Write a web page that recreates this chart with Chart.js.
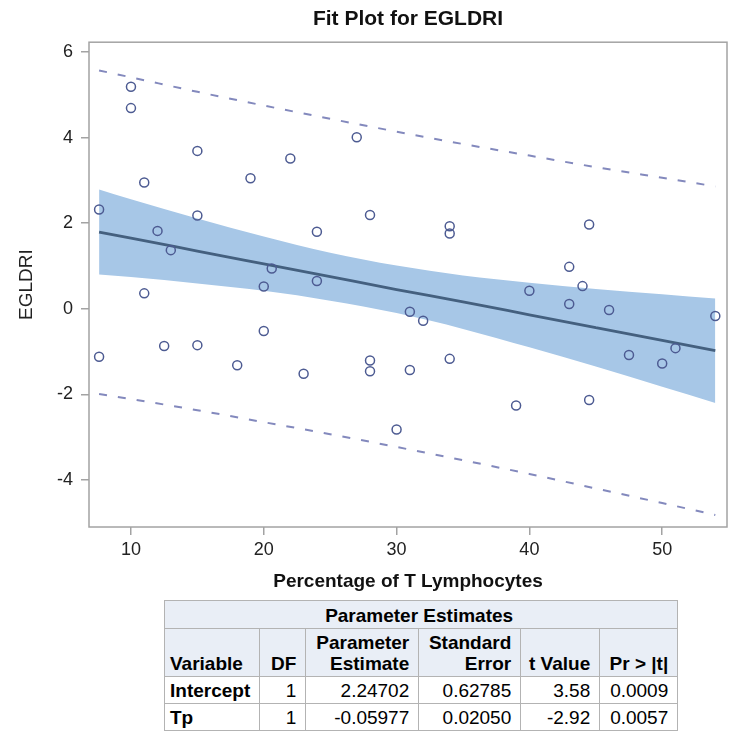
<!DOCTYPE html>
<html lang="en">
<head>
<meta charset="UTF-8">
<title>Fit Plot for EGLDRI</title>
<script src="https://cdn.jsdelivr.net/npm/chart.js@4"></script>
<style>
  body { margin: 0; background: #fff; font-family: 'Liberation Sans', Arial, sans-serif; }
  #wrap { position: relative; width: 733px; height: 738px; }
  #fit { position: absolute; left: 0; top: 0; }
  table.pe {
    position: absolute; left: 164px; top: 600px;
    border-collapse: collapse; font-size: 19px; line-height: 21px; color: #000;
  }
  table.pe th, table.pe td {
    border: 1.5px solid #b3b3b3; padding: 2px 9px 2px 5px; box-sizing: border-box;
  }
  table.pe th { background: #e9eef6; font-weight: bold; text-align: right; vertical-align: bottom; }
  table.pe th.cap { text-align: center; height: 28px; }
  table.pe th.left { text-align: left; }
  table.pe th.rowh { background: #fff; text-align: left; }
  table.pe td { text-align: right; background: #fff; }
  table.pe tr.hdr th { height: 48px; }
  table.pe tr.row td, table.pe tr.row th { height: 27px; }
</style>
</head>
<body>
<div id="wrap">
  <canvas id="fit" width="733" height="600"></canvas>
  <table class="pe" id="pe"></table>
</div>

<script>
  // observed points
  const obsX = [7.6, 7.6, 10, 10, 11, 11, 12, 12.5, 13, 15, 15, 15, 18, 19, 20, 20, 20.6, 22, 23, 24, 24, 27,
                28, 28, 28, 30, 31, 31, 32, 34, 34, 34, 39, 40, 43, 43, 44, 44.5, 44.5, 46, 47.5, 50, 51, 54];
  const obsY = [2.32, -1.12, 5.19, 4.69, 2.95, 0.36, 1.82, -0.87, 1.37, 3.69, 2.18, -0.85, -1.32, 3.05, 0.52, -0.52, 0.94, 3.51, -1.52, 1.80, 0.65, 4.01,
                2.19, -1.21, -1.46, -2.82, -0.07, -1.43, -0.28, 1.93, 1.76, -1.17, -2.26, 0.42, 0.98, 0.11, 0.53, 1.97, -2.13, -0.03, -1.08, -1.28, -0.92, -0.17];

  // fit line, confidence band and prediction limits, read along x
  const bandX  = [7.6, 10, 15, 20, 25, 30, 35, 40, 45, 50, 54];
  const fitY   = [1.79, 1.65, 1.35, 1.05, 0.75, 0.45, 0.16, -0.14, -0.44, -0.74, -0.98];
  const clmUp  = [2.79, 2.56, 2.11, 1.69, 1.31, 1.01, 0.78, 0.61, 0.46, 0.34, 0.24];
  const clmLo  = [0.80, 0.74, 0.59, 0.42, 0.19, -0.10, -0.47, -0.90, -1.35, -1.82, -2.20];
  const plmUp  = [5.57, 5.41, 5.07, 4.75, 4.44, 4.14, 3.85, 3.58, 3.31, 3.06, 2.86];
  const plmLo  = [-1.99, -2.11, -2.37, -2.65, -2.93, -3.23, -3.54, -3.86, -4.20, -4.54, -4.82];

  const xTicks = [10, 20, 30, 40, 50];
  const yTicks = [-4, -2, 0, 2, 4, 6];

  // parameter estimates table
  const peVars = ['Intercept', 'Tp'];
  const peDF   = ['1', '1'];
  const peEst  = ['2.24702', '-0.05977'];
  const peSE   = ['0.62785', '0.02050'];
  const peT    = ['3.58', '-2.92'];
  const peP    = ['0.0009', '0.0057'];

  const FONT = "'Liberation Sans', Arial, sans-serif";
  const frameColor = '#a3a3a3';

  const xy = (xs, ys) => xs.map((x, i) => ({ x: x, y: ys[i] }));

  const framePlugin = {
    id: 'frame',
    beforeDatasetsDraw(chart) {
      const a = chart.chartArea, ctx = chart.ctx;
      ctx.save();
      ctx.strokeStyle = frameColor;
      ctx.lineWidth = 1.5;
      ctx.strokeRect(a.left, a.top, a.right - a.left, a.bottom - a.top);
      ctx.restore();
    }
  };

  const curve = {
    pointRadius: 0,
    fill: false,
    cubicInterpolationMode: 'monotone'
  };

  new Chart(document.getElementById('fit').getContext('2d'), {
    type: 'line',
    data: {
      datasets: [
        {
          label: 'Observed',
          data: xy(obsX, obsY),
          showLine: false,
          pointStyle: 'circle',
          pointRadius: 4.5,
          pointBorderWidth: 1.5,
          pointBorderColor: '#4d5b92',
          pointBackgroundColor: 'rgba(0,0,0,0)'
        },
        Object.assign({ label: '95% Prediction Limits', data: xy(bandX, plmUp),
          borderColor: '#8389bd', borderWidth: 2, borderDash: [8, 11] }, curve),
        Object.assign({ label: 'Lower prediction', data: xy(bandX, plmLo),
          borderColor: '#8389bd', borderWidth: 2, borderDash: [8, 11] }, curve),
        Object.assign({ label: 'Fit', data: xy(bandX, fitY),
          borderColor: '#44607f', borderWidth: 2.8 }, curve),
        Object.assign({}, curve, { label: '95% Confidence Limits', data: xy(bandX, clmUp),
          borderWidth: 0, borderColor: 'rgba(0,0,0,0)', backgroundColor: '#a7c7e7', fill: '+1' }),
        Object.assign({ label: 'Lower confidence', data: xy(bandX, clmLo),
          borderWidth: 0, borderColor: 'rgba(0,0,0,0)' }, curve)
      ]
    },
    options: {
      responsive: false,
      animation: false,
      layout: { padding: { left: 0, right: 6, top: 0, bottom: 0 } },
      plugins: {
        legend: { display: false },
        tooltip: { enabled: false },
        title: {
          display: true,
          text: 'Fit Plot for EGLDRI',
          fullSize: false,
          color: '#111',
          font: { family: FONT, size: 21, weight: 'bold' },
          padding: { top: 7, bottom: 10 }
        }
      },
      scales: {
        x: {
          type: 'linear',
          min: 6.84,
          max: 54.88,
          afterBuildTicks: s => { s.ticks = xTicks.map(v => ({ value: v })); },
          afterFit: s => { s.height = 73; },
          border: { display: false },
          grid: { drawOnChartArea: false, tickLength: 8, color: frameColor, lineWidth: 1.5 },
          ticks: { color: '#222', padding: 4, maxRotation: 0, font: { family: FONT, size: 18 } },
          title: {
            display: true,
            text: 'Percentage of T Lymphocytes',
            color: '#111',
            font: { family: FONT, size: 19, weight: 'bold' },
            padding: { top: 0, bottom: 7 }
          }
        },
        y: {
          type: 'linear',
          min: -5.1,
          max: 6.23,
          afterBuildTicks: s => { s.ticks = yTicks.map(v => ({ value: v })); },
          afterFit: s => { s.width = 89; },
          border: { display: false },
          grid: { drawOnChartArea: false, tickLength: 8, color: frameColor, lineWidth: 1.5 },
          ticks: { color: '#222', padding: 8, font: { family: FONT, size: 18 } },
          title: {
            display: true,
            text: 'EGLDRI',
            color: '#222',
            font: { family: FONT, size: 19 },
            padding: { top: 15, bottom: 0 }
          }
        }
      }
    },
    plugins: [framePlugin]
  });

  // build the table
  const tbl = document.getElementById('pe');
  let html = '<colgroup><col style="width:93px"><col style="width:46px"><col style="width:113px">' +
             '<col style="width:102px"><col style="width:79px"><col style="width:78px"></colgroup>';
  html += '<tr><th class="cap" colspan="6">Parameter Estimates</th></tr>';
  html += '<tr class="hdr"><th class="left">Variable</th><th>DF</th><th>Parameter<br>Estimate</th>' +
          '<th>Standard<br>Error</th><th>t Value</th><th>Pr &gt; |t|</th></tr>';
  peVars.forEach((v, i) => {
    html += '<tr class="row"><th class="rowh">' + v + '</th><td>' + peDF[i] + '</td><td>' + peEst[i] +
            '</td><td>' + peSE[i] + '</td><td>' + peT[i] + '</td><td>' + peP[i] + '</td></tr>';
  });
  tbl.innerHTML = html;
</script>
</body>
</html>
